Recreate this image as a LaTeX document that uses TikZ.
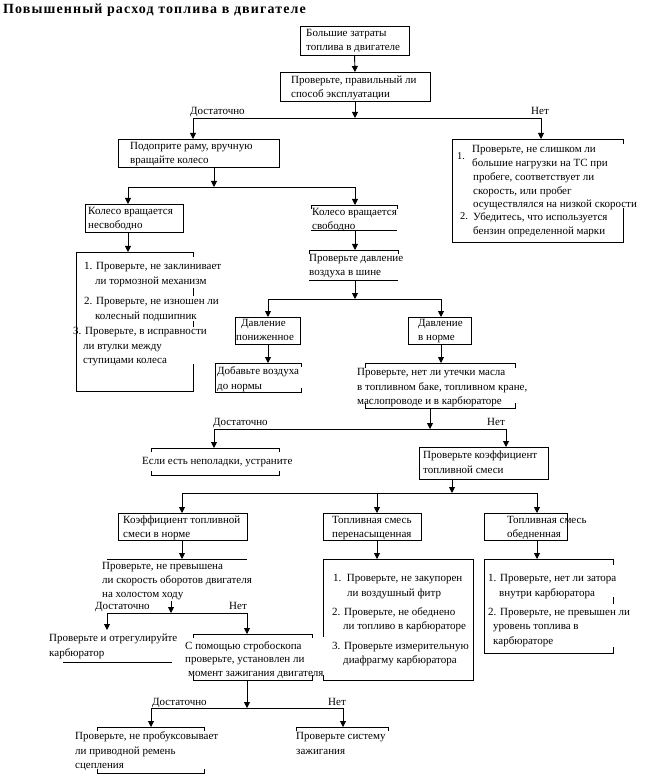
\documentclass[tikz,border=0pt]{standalone}
\usepackage{fontspec}
\setmainfont{Liberation Serif}
\usetikzlibrary{arrows.meta}
\newfontfamily\titlefont[LetterSpace=8]{Liberation Serif}
\newcommand\tline[4]{\node[txt] (#1) at (#2,#3) {#4};}
\begin{document}
\begin{tikzpicture}[x=1pt,y=-1pt,
  ln/.style={line width=0.9pt},
  arr/.style={line width=0.9pt,-{Triangle[length=6pt,width=6pt]}},
  box/.style={draw,line width=0.9pt,inner sep=0,outer sep=0,anchor=north west},
  frame/.style={inner sep=0,outer sep=0,anchor=north west},
  txt/.style={anchor=west,inner sep=0,text height=7pt,text depth=2pt,font=\fontsize{11}{13}\selectfont},
  num/.style={anchor=west,inner sep=0,text height=7pt,text depth=2pt,font=\fontsize{10.5}{12}\selectfont}]
\useasboundingbox[fill=white] (0,0) rectangle (645,775);
% title
\node[anchor=west,inner sep=0,font=\titlefont\bfseries\fontsize{14}{16}\selectfont] (title) at (3,10) {Повышенный расход топлива в двигателе};
% boxes
\node[box,minimum width=109pt,minimum height=29pt] (b1) at (300,26) {};
\node[box,minimum width=150pt,minimum height=29pt] (b2) at (280,72) {};
\node[box,minimum width=161pt,minimum height=28pt] (b3) at (118,139) {};
\node[box,minimum width=98pt,minimum height=28pt] (b4) at (85,204) {};
\node[frame,minimum width=86pt,minimum height=25pt] (b5) at (311,205) {};
\node[frame,minimum width=117pt,minimum height=139pt] (b6) at (76,252) {};
\node[frame,minimum width=89pt,minimum height=30pt] (b7) at (309,250) {};
\node[box,minimum width=65pt,minimum height=27pt] (b8) at (235,317) {};
\node[box,minimum width=63pt,minimum height=27pt] (b9) at (408,317) {};
\node[frame,minimum width=86pt,minimum height=29pt] (b10) at (215,363) {};
\node[frame,minimum width=150pt,minimum height=45pt] (b11) at (365,363) {};
\node[frame,minimum width=128pt,minimum height=27pt] (b12) at (151,448) {};
\node[box,minimum width=129pt,minimum height=32pt] (b13) at (419,447) {};
\node[box,minimum width=129pt,minimum height=27pt] (b14) at (118,513) {};
\node[box,minimum width=98pt,minimum height=27pt] (b15) at (323,513) {};
\node[box,minimum width=83pt,minimum height=27pt] (b16) at (484,513) {};
\node[frame,minimum width=140pt,minimum height=42pt] (b17) at (107,559) {};
\node[frame,minimum width=109pt,minimum height=32pt] (b18) at (63,630) {};
\node[frame,minimum width=119pt,minimum height=46pt] (b19) at (193,634) {};
\node[frame,minimum width=150pt,minimum height=121pt] (b20) at (323,559) {};
\node[frame,minimum width=107pt,minimum height=46pt] (b21) at (97,727) {};
\node[frame,minimum width=92pt,minimum height=30pt] (b22) at (296,727) {};
\node[frame,minimum width=129pt,minimum height=94pt] (b23) at (484,559) {};
\node[frame,minimum width=171pt,minimum height=103pt] (b24) at (452,139) {};
% partial borders
\draw[ln] ([yshift=-4pt]b5.north west) -- (b5.north west) -- (b5.north east) -- ([yshift=-4pt]b5.north east);
\draw[ln] (b5.south west) -- (b5.south east);
\draw[ln] ([yshift=-5pt]b6.north east) -- (b6.north east) -- (b6.north west) -- (b6.south west) -- (b6.south east) -- ([yshift=-112pt]b6.north east);
\draw[ln] ([yshift=-36pt]b6.north east) -- ([yshift=-44pt]b6.north east);
\draw[ln] ([yshift=-69pt]b6.north east) -- ([yshift=-75pt]b6.north east);
\draw[ln] ([yshift=-4pt]b7.north west) -- (b7.north west) -- (b7.north east) -- ([yshift=-4pt]b7.north east);
\draw[ln] (b7.south west) -- (b7.south east);
\draw[ln] ([yshift=-4pt]b10.north east) -- (b10.north east) -- (b10.north west) -- (b10.south west) -- (b10.south east) -- ([yshift=4pt]b10.south east);
\draw[ln] ([yshift=-5pt]b11.north west) -- (b11.north west) -- (b11.north east) -- ([yshift=-5pt]b11.north east);
\draw[ln] ([yshift=5pt]b11.south west) -- (b11.south west) -- (b11.south east) -- ([yshift=5pt]b11.south east);
\draw[ln] ([yshift=-4pt]b12.north west) -- (b12.north west) -- (b12.north east) -- ([yshift=-4pt]b12.north east);
\draw[ln] ([yshift=4pt]b12.south west) -- (b12.south west) -- (b12.south east) -- ([yshift=4pt]b12.south east);
\draw[ln] (b17.north west) -- (b17.north east);
\draw[ln] (b18.south west) -- (b18.south east);
\draw[ln] ([yshift=-4pt]b19.north west) -- (b19.north west) -- (b19.north east) -- ([yshift=-4pt]b19.north east);
\draw[ln] ([yshift=5pt]b19.south west) -- (b19.south west) -- (b19.south east) -- ([yshift=5pt]b19.south east);
\draw[ln] ([yshift=-78pt]b20.north west) -- (b20.north west) -- (b20.north east) -- (b20.south east) -- (b20.south west) -- ([yshift=5pt]b20.south west);
\draw[ln] ([yshift=-4pt]b21.north west) -- (b21.north west) -- (b21.north east) -- ([yshift=-4pt]b21.north east);
\draw[ln] ([yshift=4pt]b21.south west) -- (b21.south west) -- (b21.south east) -- ([yshift=4pt]b21.south east);
\draw[ln] ([yshift=-4pt]b22.north west) -- (b22.north west) -- (b22.north east) -- ([yshift=-4pt]b22.north east);
\draw[ln] ([yshift=-6pt]b23.north east) -- (b23.north east) -- (b23.north west) -- (b23.south west) -- (b23.south east) -- ([yshift=6pt]b23.south east);
\draw[ln] ([yshift=-38pt]b23.north east) -- ([yshift=-45pt]b23.north east);
\draw[ln] ([yshift=-5pt]b24.north east) -- (b24.north east) -- (b24.north west) -- (b24.south west) -- (b24.south east) -- ([yshift=34pt]b24.south east);
% junctions
\coordinate (j1) at (355,118); \coordinate (j1L) at (193,118); \coordinate (j1R) at (541,118);
\coordinate (j2) at (214,187); \coordinate (j2L) at (128,187); \coordinate (j2R) at (355,187);
\coordinate (j3) at (355,299); \coordinate (j3L) at (268,299); \coordinate (j3R) at (441,299);
\coordinate (j4) at (430,429); \coordinate (j4L) at (214,429); \coordinate (j4R) at (506,429);
\coordinate (j5) at (452,493); \coordinate (j5L) at (182,493); \coordinate (j5M) at (377,493); \coordinate (j5R) at (537,493);
\coordinate (j6) at (171,613); \coordinate (j6L) at (107,613); \coordinate (j6R) at (247,613);
\coordinate (j7) at (247,708); \coordinate (j7L) at (151,708); \coordinate (j7R) at (343,708);
% connectors
\draw[arr] (b1.south) -- (b2.north);
\draw[arr] (b2.south) -- (j1);
\draw[ln] (j1L) -- (j1R);
\draw[arr] (j1L) -- (j1L |- b3.north);
\draw[arr] (j1R) -- (j1R |- b24.north);
\draw[arr] (b3.south -| j2) -- (j2);
\draw[ln] (j2L) -- (j2R);
\draw[arr] (j2L) -- (j2L |- b4.north);
\draw[arr] (j2R) -- (j2R |- b5.north);
\draw[arr] (b4.south -| j2L) -- (b6.north -| j2L);
\draw[arr] (b5.south -| j2R) -- (b7.north -| j2R);
\draw[arr] (b7.south -| j3) -- (j3);
\draw[ln] (j3L) -- (j3R);
\draw[arr] (j3L) -- (j3L |- b8.north);
\draw[arr] (j3R) -- (j3R |- b9.north);
\draw[arr] (b8.south -| j3L) -- (b10.north -| j3L);
\draw[arr] (b9.south -| j3R) -- (b11.north -| j3R);
\draw[arr] (b11.south -| j4) -- (j4);
\draw[ln] (j4L) -- (j4R);
\draw[arr] (j4L) -- (j4L |- b12.north);
\draw[arr] (j4R) -- (j4R |- b13.north);
\draw[arr] (b13.south -| j5) -- (j5);
\draw[ln] (j5L) -- (j5R);
\draw[arr] (j5L) -- (j5L |- b14.north);
\draw[arr] (j5M) -- (j5M |- b15.north);
\draw[arr] (j5R) -- (j5R |- b16.north);
\draw[arr] (b14.south -| j5L) -- (b17.north -| j5L);
\draw[arr] (b15.south -| j5M) -- (b20.north -| j5M);
\draw[arr] (b16.south -| j5R) -- (b23.north -| j5R);
\draw[arr] (b17.south -| j6) -- (j6);
\draw[ln] (j6L) -- (j6R);
\draw[arr] (j6L) -- (j6L |- b18.north);
\draw[arr] (j6R) -- (j6R |- b19.north);
\draw[arr] (b19.south -| j7) -- (j7);
\draw[ln] (j7L) -- (j7R);
\draw[arr] (j7L) -- (j7L |- b21.north);
\draw[arr] (j7R) -- (j7R |- b22.north);
% branch labels
\tline{l1a}{190}{112}{Достаточно}
\tline{l1b}{531}{112}{Нет}
\tline{l2a}{213}{423}{Достаточно}
\tline{l2b}{487}{423}{Нет}
\tline{l3a}{95}{607}{Достаточно}
\tline{l3b}{229}{607}{Нет}
\tline{l4a}{152}{703}{Достаточно}
\tline{l4b}{328}{703}{Нет}
% texts
\tline{t1a}{306}{34}{Большие затраты}
\tline{t1b}{306}{48}{топлива в двигателе}
\tline{t2a}{291}{81}{Проверьте, правильный ли}
\tline{t2b}{291}{95}{способ эксплуатации}
\tline{t3a}{130}{147}{Подоприте раму, вручную}
\tline{t3b}{130}{161}{вращайте колесо}
\tline{t4a}{88}{212}{Колесо вращается}
\tline{t4b}{88}{226}{несвободно}
\tline{t5a}{312}{213}{Колесо вращается}
\tline{t5b}{312}{227}{свободно}
\tline{t6a}{84}{267}{1. Проверьте, не заклинивает}
\tline{t6b}{95}{282}{ли тормозной механизм}
\tline{t6c}{84}{302}{2. Проверьте, не изношен ли}
\tline{t6d}{95}{317}{колесный подшипник}
\tline{t6e}{73}{332}{3. Проверьте, в исправности}
\tline{t6f}{83}{347}{ли втулки между}
\tline{t6g}{83}{361}{ступицами колеса}
\tline{t7a}{309}{259}{Проверьте давление}
\tline{t7b}{309}{273}{воздуха в шине}
\tline{t8a}{241}{324}{Давление}
\tline{t8b}{236}{338}{пониженное}
\tline{t9a}{418}{324}{Давление}
\tline{t9b}{418}{338}{в норме}
\tline{t10a}{217}{372}{Добавьте воздуха}
\tline{t10b}{217}{387}{до нормы}
\tline{t11a}{357}{373}{Проверьте, нет ли утечки масла}
\tline{t11b}{357}{388}{в топливном баке, топливном кране,}
\tline{t11c}{357}{402}{маслопроводе и в карбюраторе}
\tline{t12}{142}{462}{Если есть неполадки, устраните}
\tline{t13a}{423}{456}{Проверьте коэффициент}
\tline{t13b}{423}{471}{топливной смеси}
\tline{t14a}{123}{521}{Коэффициент топливной}
\tline{t14b}{123}{535}{смеси в норме}
\tline{t15a}{332}{521}{Топливная смесь}
\tline{t15b}{332}{535}{перенасыщенная}
\tline{t16a}{507}{521}{Топливная смесь}
\tline{t16b}{507}{535}{обедненная}
\tline{t17a}{102}{567}{Проверьте, не превышена}
\tline{t17b}{102}{581}{ли скорость оборотов двигателя}
\tline{t17c}{102}{595}{на холостом ходу}
\tline{t18a}{49}{639}{Проверьте и отрегулируйте}
\tline{t18b}{49}{654}{карбюратор}
\tline{t19a}{185}{647}{С помощью стробоскопа}
\tline{t19b}{185}{660}{проверьте, установлен ли}
\tline{t19c}{188}{674}{момент зажигания двигателя}
\tline{t20a}{333}{579}{1.\ \ Проверьте, не закупорен}
\tline{t20b}{347}{594}{ли воздушный фитр}
\tline{t20c}{332}{613}{2. Проверьте, не обеднено}
\tline{t20d}{343}{627}{ли топливо в карбюраторе}
\tline{t20e}{332}{647}{3. Проверьте измерительную}
\tline{t20f}{343}{661}{диафрагму карбюратора}
\tline{t21a}{75}{737}{Проверьте, не пробуксовывает}
\tline{t21b}{75}{752}{ли приводной ремень}
\tline{t21c}{75}{766}{сцепления}
\tline{t22a}{296}{737}{Проверьте систему}
\tline{t22b}{296}{752}{зажигания}
\tline{t23a}{488}{579}{1. Проверьте, нет ли затора}
\tline{t23b}{499}{594}{внутри карбюратора}
\tline{t23c}{488}{613}{2. Проверьте, не превышен ли}
\tline{t23d}{493}{627}{уровень топлива в}
\tline{t23e}{493}{642}{карбюраторе}
\node[num] (n24a) at (457,157) {1.};
\tline{t24a}{472}{150}{Проверьте, не слишком ли}
\tline{t24b}{472}{164}{большие нагрузки на ТС при}
\tline{t24c}{473}{178}{пробеге, соответствует ли}
\tline{t24d}{473}{192}{скорость, или пробег}
\tline{t24e}{473}{205}{осуществлялся на низкой скорости}
\node[num] (n24b) at (460,217) {2.};
\tline{t24f}{473}{218}{Убедитесь, что используется}
\tline{t24g}{473}{232}{бензин определенной марки}
\end{tikzpicture}
\end{document}
